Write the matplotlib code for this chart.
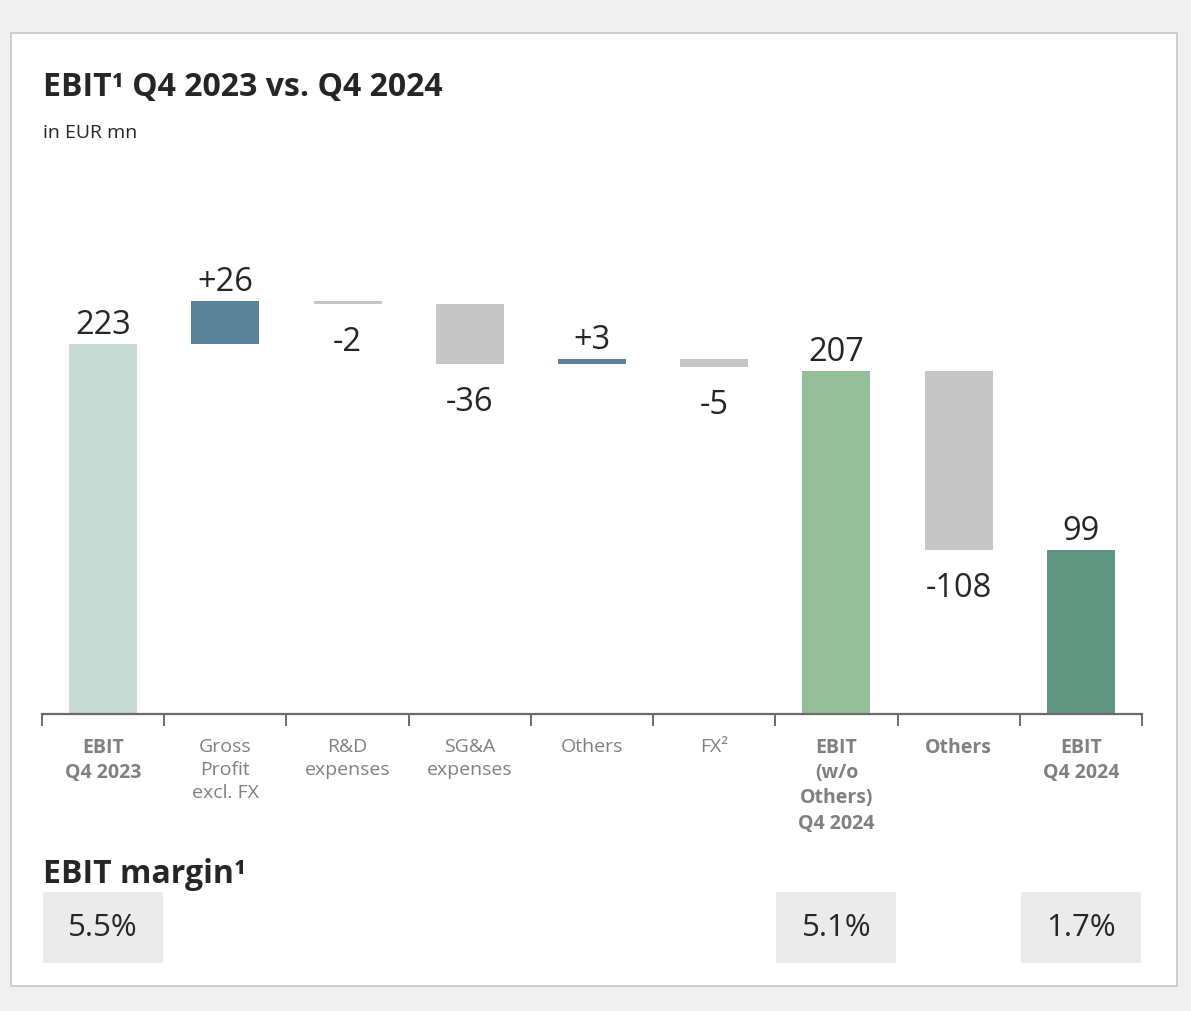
import matplotlib
matplotlib.use("Agg")
import matplotlib.pyplot as plt
from matplotlib.patches import Rectangle
import matplotlib.transforms as mtrans

plt.rcParams['font.family'] = ['Open Sans', 'Noto Sans', 'DejaVu Sans']

# ---- data ----
categories = ["EBIT\nQ4 2023", "Gross\nProfit\nexcl. FX", "R&D\nexpenses", "SG&A\nexpenses",
              "Others", "FX²", "EBIT\n(w/o\nOthers)\nQ4 2024", "Others", "EBIT\nQ4 2024"]
values = [223, 26, -2, -36, 3, -5, 207, -108, 99]
value_labels = ["223", "+26", "-2", "-36", "+3", "-5", "207", "-108", "99"]
is_total = [True, False, False, False, False, False, True, False, True]
bold_label = [True, False, False, False, False, False, True, True, True]
margin_idx = [0, 6, 8]
margin_vals = ["5.5%", "5.1%", "1.7%"]

# ---- colours ----
total_colors = {0: "#c9dbd5", 6: "#95bf98", 8: "#609582"}
pos_color = "#5b8299"
neg_color = "#c6c6c6"
text_dark = "#262626"
label_gray = "#808080"

W, H = 1191, 1012
fig = plt.figure(figsize=(W / 100, H / 100), dpi=100, facecolor="#f0f0f0")

# white panel
fig.patches.append(Rectangle((11 / W, 1 - 987 / H), (1177 - 11) / W, (987 - 34) / H,
                             transform=fig.transFigure, facecolor="white",
                             edgecolor="#c8c8c8", linewidth=1.2, zorder=0))

# axes: zero line at y=715 px, ~1.659 px per unit
px_per_unit = 370 / 223
ax_top_px = 200
ax = fig.add_axes([42 / W, 1 - 715 / H, 1100 / W, (715 - ax_top_px) / H])
ax.set_zorder(3)
ax.set_facecolor("none")
ax.set_xlim(-0.5, len(categories) - 0.5)
ax.set_ylim(0, (715 - ax_top_px) / px_per_unit)

VAL_FS = 23.5
bw = 68 / (1100 / 9)
running = 0
for i, v in enumerate(values):
    if is_total[i]:
        running = v
        ax.bar(i, v, bottom=0, width=bw, color=total_colors[i], linewidth=0)
        ax.annotate(value_labels[i], (i, v), xytext=(0, 2), textcoords="offset points",
                    ha="center", va="bottom", fontsize=VAL_FS, color=text_dark)
    else:
        bottom = running
        running = running + v
        color = pos_color if v > 0 else neg_color
        ax.bar(i, v, bottom=bottom, width=bw, color=color, linewidth=0)
        if v > 0:
            ax.annotate(value_labels[i], (i, running), xytext=(0, 2), textcoords="offset points",
                        ha="center", va="bottom", fontsize=VAL_FS, color=text_dark)
        else:
            ax.annotate(value_labels[i], (i, running), xytext=(0, -15), textcoords="offset points",
                        ha="center", va="top", fontsize=VAL_FS, color=text_dark)

for s in ["top", "right", "left"]:
    ax.spines[s].set_visible(False)
ax.spines["bottom"].set_color("#6b6b6b")
ax.spines["bottom"].set_linewidth(1.6)
ax.set_yticks([])
ax.set_xticks([i - 0.5 for i in range(len(categories) + 1)])
ax.set_xticklabels([])
ax.tick_params(axis="x", direction="out", length=8.5, width=1.4, color="#6b6b6b")

# category labels
for i, lab in enumerate(categories):
    ax.text(i, -23 / px_per_unit, lab, ha="center", va="top", fontsize=14,
            color=label_gray, fontweight="bold" if bold_label[i] else "normal",
            linespacing=1.35, transform=ax.transData, clip_on=False)

# titles
fig.text(43 / W, 1 - 96 / H, "EBIT¹ Q4 2023 vs. Q4 2024", fontsize=23, fontweight="bold",
         color="#262626", ha="left", va="baseline", zorder=4)
fig.text(43 / W, 1 - 138 / H, "in EUR mn", fontsize=14, color="#262626",
         ha="left", va="baseline", zorder=4)
fig.text(43 / W, 1 - 883 / H, "EBIT margin¹", fontsize=23, fontweight="bold",
         color="#262626", ha="left", va="baseline", zorder=4)

# margin boxes
blend = mtrans.blended_transform_factory(ax.transData, fig.transFigure)
box_w = 120 / (1100 / 9)
for idx, mv in zip(margin_idx, margin_vals):
    fig.patches.append(Rectangle((idx - box_w / 2, 1 - 964 / H), box_w, 71 / H,
                                 transform=blend, facecolor="#ebebeb", edgecolor="none", zorder=1))
    fig.text(idx, 1 - 928 / H, mv, transform=blend, ha="center", va="center",
             fontsize=22.5, color=text_dark, zorder=4)

fig.savefig("out.png", dpi=100, facecolor=fig.get_facecolor())
